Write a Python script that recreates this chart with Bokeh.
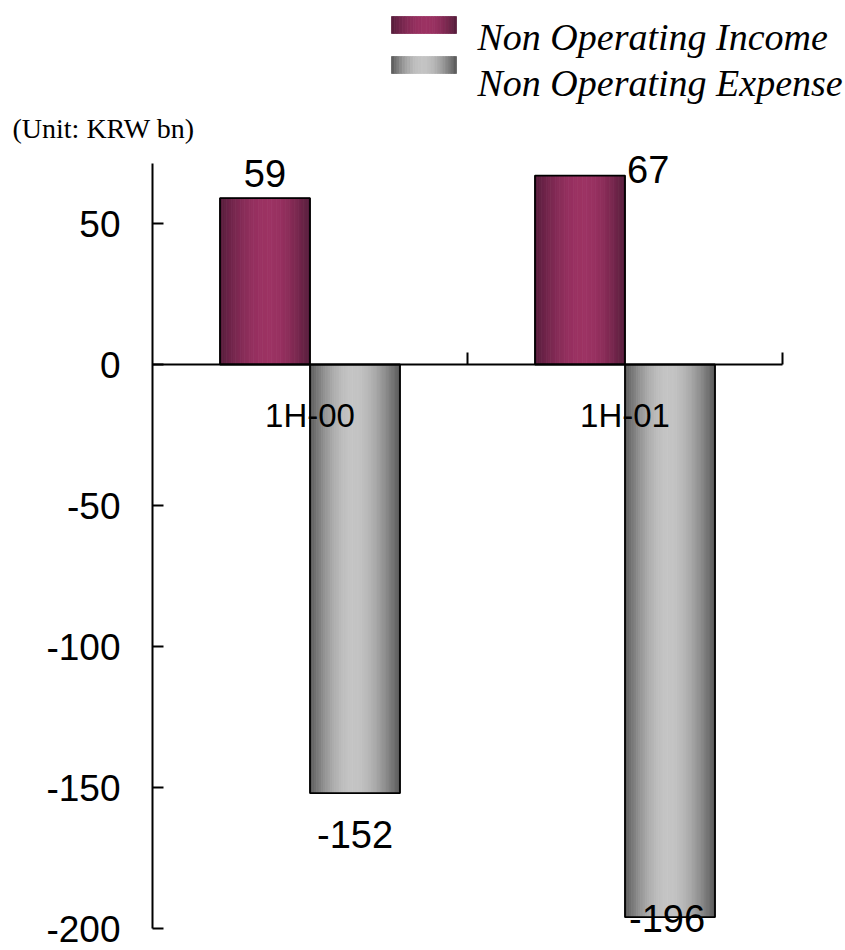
import numpy as np
from bokeh.plotting import figure
from bokeh.models import Range1d, FixedTicker, LinearAxis
from bokeh.core.properties import value
from bokeh.embed import file_html
from bokeh.resources import INLINE

# ---- data -------------------------------------------------------------
periods = ["1H-00", "1H-01"]
non_op_income = [59, 67]
non_op_expense = [-152, -196]
series_names = ["Non Operating Income", "Non Operating Expense"]
y_ticks = [-200, -150, -100, -50, 0, 50]
unit_note = "(Unit: KRW bn)"

# ---- layout (pixels) ---------------------------------------------------
W, H = 845, 950
X0_PX = 152       # left end of the category axis
CAT_PX = 315      # width of one category slot
Y0_PX = 364       # zero line
UNIT_PX = 2.82    # pixels per KRW bn
BAR_W = 90 / CAT_PX
AXIS_TOP_PX = 163

def px_x(px):
    return (px - X0_PX) / CAT_PX

def px_y(px):
    return (Y0_PX - px) / UNIT_PX

p = figure(width=W, height=H,
           x_range=Range1d(px_x(0), px_x(W)),
           y_range=Range1d(px_y(H), px_y(0)),
           output_backend="svg", toolbar_location=None,
           min_border=0, outline_line_color=None,
           background_fill_color="white", border_fill_color="white")
p.grid.visible = False

SANS = "Liberation Sans"
SERIF = "Liberation Serif"

# ---- cylinder-like shading -------------------------------------------
def shade(dark, light, n, peak):
    t = (np.arange(n) + 0.5) / n
    # asymmetric bump: rises to the peak, falls toward the right edge
    s = np.where(t < peak, t / peak, (1 - t) / (1 - peak))
    f = np.sin(np.pi / 2 * s) ** 0.9
    cols = []
    for k in f:
        r, g, b = (int(round(d + (l - d) * k)) for d, l in zip(dark, light))
        cols.append("#%02x%02x%02x" % (r, g, b))
    return cols

INC_DARK, INC_LIGHT = (84, 28, 58), (156, 50, 99)
EXP_DARK, EXP_LIGHT = (86, 86, 86), (196, 196, 196)

def gradient_bar(left, right, bottom, top, dark, light, peak, n=40, outline=True):
    edges = np.linspace(left, right, n + 1)
    cols = shade(dark, light, n, peak)
    p.quad(left=edges[:-1], right=edges[1:], bottom=[bottom] * n, top=[top] * n,
           fill_color=cols, line_color=cols, line_width=0.8)
    if outline:
        p.quad(left=[left], right=[right], bottom=[bottom], top=[top],
               fill_color=None, line_color="black", line_width=1.8)

centers = [i + 0.5 for i in range(len(periods))]
for c, inc, exp in zip(centers, non_op_income, non_op_expense):
    gradient_bar(c - BAR_W, c, 0, inc, INC_DARK, INC_LIGHT, 0.55)
    gradient_bar(c, c + BAR_W, exp, 0, EXP_DARK, EXP_LIGHT, 0.48)

# ---- value labels (vertically centred on an offset from the bar end) ---
LABEL_SIZE = "38px"
inc_dx = [0, 2]
inc_dy = [-25, -6]
inc_align = ["center", "left"]
inc_x = [c - BAR_W / 2 if a == "center" else c for c, a in zip(centers, inc_align)]
for x, v, dx, dy, a in zip(inc_x, non_op_income, inc_dx, inc_dy, inc_align):
    p.text(x=[x], y=[v], text=[str(v)], x_offset=dx, y_offset=dy,
           text_align=a, text_baseline="middle",
           text_font=value(SANS), text_font_size=LABEL_SIZE, text_color="black")

exp_dx = [0, -3]
exp_dy = [41, 1]
for c, v, dx, dy in zip(centers, non_op_expense, exp_dx, exp_dy):
    p.text(x=[c + BAR_W / 2], y=[v], text=[str(v)], x_offset=dx, y_offset=dy,
           text_align="center", text_baseline="middle",
           text_font=value(SANS), text_font_size=LABEL_SIZE, text_color="black")

# ---- axes --------------------------------------------------------------
ya = p.yaxis[0]
ya.fixed_location = 0
ya.ticker = FixedTicker(ticks=y_ticks)
ya.major_label_overrides = {t: str(t) for t in y_ticks}
ya.bounds = (min(y_ticks), px_y(AXIS_TOP_PX))
ya.axis_line_width = 2
ya.axis_line_color = "black"
ya.major_tick_line_width = 2
ya.major_tick_line_color = "black"
ya.major_tick_in = 11
ya.major_tick_out = 0
ya.minor_tick_line_color = None
ya.major_label_standoff = 32
ya.major_label_text_font = SANS
ya.major_label_text_font_size = "37px"
ya.major_label_text_color = "black"

xa = p.xaxis[0]
xa.fixed_location = 0
xa.ticker = FixedTicker(ticks=[float(i + 1) for i in range(len(periods))])
xa.bounds = (0, len(periods))
xa.axis_line_width = 2
xa.axis_line_color = "black"
xa.major_tick_line_width = 2
xa.major_tick_line_color = "black"
xa.major_tick_in = 12
xa.major_tick_out = 0
xa.minor_tick_line_color = None
xa.major_label_text_color = None

cat_axis = LinearAxis(fixed_location=0,
                      ticker=FixedTicker(ticks=centers),
                      major_label_overrides={c: name for c, name in zip(centers, periods)},
                      axis_line_color=None, major_tick_line_color=None,
                      minor_tick_line_color=None,
                      major_label_standoff=26,
                      major_label_text_font=SANS,
                      major_label_text_font_size="33px",
                      major_label_text_color="black")
p.add_layout(cat_axis, "below")

# ---- unit note -------------------------------------------------------
p.text(x=[px_x(12)], y=[px_y(128)], text=[unit_note],
       text_font=value(SERIF), text_font_size="28px",
       text_baseline="alphabetic", text_align="left", text_color="black")

# ---- legend ----------------------------------------------------------
leg_rows = [(16, 33, 36, INC_DARK, INC_LIGHT, 0.55),
            (56, 73, 82, EXP_DARK, EXP_LIGHT, 0.48)]
for name, (t_px, b_px, base_px, dk, lt, pk) in zip(series_names, leg_rows):
    gradient_bar(px_x(391), px_x(456), px_y(b_px), px_y(t_px), dk, lt, pk,
                 n=24, outline=False)
    p.text(x=[px_x(477)], y=[px_y(base_px)], text=[name],
           text_font=value(SERIF), text_font_style="italic",
           text_font_size="38px", text_baseline="alphabetic",
           text_align="left", text_color="black")

open("out.html", "w").write(file_html(p, INLINE))
